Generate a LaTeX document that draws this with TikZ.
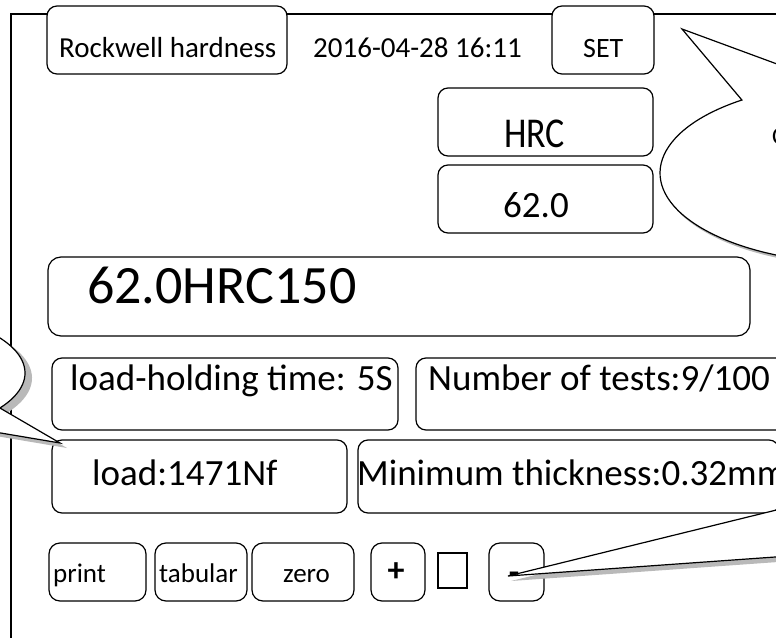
\documentclass[tikz,border=0pt]{standalone}
\usepackage{fontspec}
\setmainfont{Carlito}
\usetikzlibrary{calc}
\newcommand{\fsz}[1]{\fontsize{#1}{#1}\selectfont}
\begin{document}
\begin{tikzpicture}[x=1pt,y=-1pt,
  frameline/.style={line width=1.5pt},
  box/.style={draw, line width=1.2pt, rounded corners=10pt, fill=white, inner sep=0pt},
  sqbox/.style={draw, line width=1.2pt, fill=white, inner sep=0pt},
  lbl/.style={anchor=base west, inner sep=0pt},
  sym/.style={anchor=base, inner sep=0pt},
  callout/.style={draw, line width=1.2pt, fill=white, line join=miter},
  shadowc/.style={fill=gray!55}]
\useasboundingbox (0,0) rectangle (776,637);
\clip (0,0) rectangle (776,637);
% frame
\coordinate (ftl) at (11,14);
\coordinate (fbl) at (11,660);
\coordinate (ftr) at (800,14);
\draw[frameline] (fbl) -- (ftl) -- (ftr);
% boxes
\node[box, minimum width=240pt, minimum height=68pt] (rock) at (167,40) {};
\node[box, minimum width=102pt, minimum height=68pt] (set) at (603,40) {};
\node[box, minimum width=215pt, minimum height=68pt] (hrc) at (545.5,122) {};
\node[box, minimum width=215pt, minimum height=68pt] (val) at (545.5,199) {};
\node[box, rounded corners=13pt, minimum width=702pt, minimum height=79pt] (big) at (399,296.5) {};
\node[box, minimum width=346pt, minimum height=72pt] (hold) at (225,394) {};
\node[box, minimum width=384pt, minimum height=72pt] (num) at (608,394) {};
\node[box, minimum width=295pt, minimum height=73pt] (load) at (199.5,476.5) {};
\node[box, minimum width=421pt, minimum height=73pt] (minth) at (568.5,476.5) {};
\node[box, rounded corners=11pt, minimum width=97pt, minimum height=58pt] (print) at (97.5,572) {};
\node[box, rounded corners=11pt, minimum width=92pt, minimum height=58pt] (tab) at (201,572) {};
\node[box, rounded corners=11pt, minimum width=102pt, minimum height=58pt] (zero) at (303,572) {};
\node[box, rounded corners=11pt, minimum width=54pt, minimum height=58pt] (plus) at (398,572) {};
\node[sqbox, minimum width=29pt, minimum height=35pt] (sq) at (452.5,570.5) {};
\node[box, rounded corners=11pt, minimum width=55pt, minimum height=58pt] (minus) at (516.5,572) {};
% texts
\node[lbl, font=\fsz{29}] (trock) at (59,57) {Rockwell hardness};
\node[lbl, font=\fsz{29}] (tdate) at (313,57) {2016-04-28 16:11};
\node[lbl, font=\fsz{28}] (tset) at (583,57) {SET};
\node[lbl, font=\fsz{36}] (thrc) at (504,147) {\scalebox{1}[1.18]{HRC}};
\node[lbl, font=\fsz{37}] (tval) at (503,217) {62.0};
\node[lbl, font=\fsz{54}] (tbig) at (87,303) {62.0HRC150};
\node[lbl, font=\fsz{37}] (thold) at (70,390) {load-holding time: 5S};
\node[lbl, font=\fsz{37}] (tnum) at (428,390) {Number of tests:9/100};
\node[lbl, font=\fsz{37}] (tload) at (92,485) {load:1471Nf};
\node[lbl, font=\fsz{37}] (tmin) at (357,485) {Minimum thickness:0.32mm};
\node[lbl, font=\fsz{27}] (tprint) at (53,582) {print};
\node[lbl, font=\fsz{27}] (ttab) at (159,582) {tabular};
\node[lbl, font=\fsz{27}] (tzero) at (283,582) {zero};
\node[sym, font=\fsz{34}\bfseries] (tplus) at (396,581) {+};
\node[sym, font=\fsz{34}\bfseries] (tminus) at (514,583) {-};
% callout top right
\begin{scope}[shift={(2,3)}]
\fill[shadowc] (682,29) -- (741.9,100.0) arc[start angle=233.8, end angle=-98.6, x radius=200, y radius=90.4] -- cycle;
\end{scope}
\path[callout] (682,29) -- (741.9,100.0) arc[start angle=233.8, end angle=-98.6, x radius=200, y radius=90.4] -- cycle;
\node[lbl, font=\fsz{25}] (tc) at (772,144) {C};
% callout left
\begin{scope}[shift={(7,5)}]
\fill[shadowc] (60,443) -- (-0.06,408) arc[start angle=33.6, end angle=-303.5, x radius=150, y radius=63.3] -- cycle;
\end{scope}
\path[callout] (60,443) -- (-0.06,408) arc[start angle=33.6, end angle=-303.5, x radius=150, y radius=63.3] -- cycle;
% callout bottom right
\begin{scope}[shift={(3,5)}]
\fill[shadowc] (508,576) -- (1000,455) -- (1000,541) -- cycle;
\end{scope}
\path[callout] (508,576) -- (1000,455) -- (1000,541) -- cycle;
\end{tikzpicture}
\end{document}
